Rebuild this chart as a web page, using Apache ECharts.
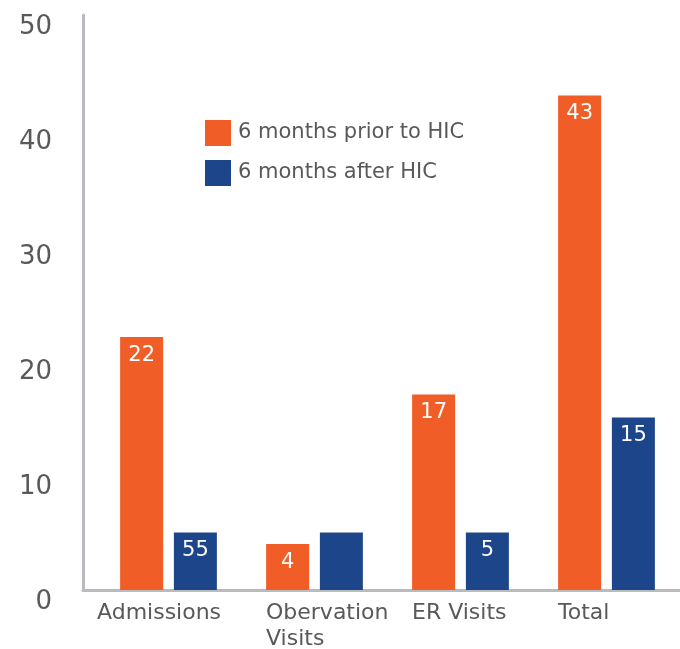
<!DOCTYPE html>
<html>
<head>
<meta charset="utf-8">
<script src="https://cdn.jsdelivr.net/npm/echarts@6/dist/echarts.min.js"></script>
<style>
    html, body { margin: 0; padding: 0; background: #fff; }
    #chart { width: 680px; height: 649px; }
</style>
</head>
<body>
<div id="chart"></div>
<script>
const categories = ['Admissions', 'Obervation\nVisits', 'ER Visits', 'Total'];
const priorValues = [22, 4, 17, 43];
const afterValues = [5, 5, 5, 15];
// labels as printed on the bars (the original shows "55" on the first blue bar)
const priorLabels = ['22', '4', '17', '43'];
const afterLabels = ['55', '', '5', '15'];
const seriesNames = ['6 months prior to HIC', '6 months after HIC'];

const orange = '#F15D26';
const blue = '#1C4689';
const textColor = '#595959';
const axisColor = '#b9bbbe';
const font = 'DejaVu Sans';

const chart = echarts.init(document.getElementById('chart'));

const option = {
    animation: false,
    textStyle: { fontFamily: font },
    grid: [
        { left: 95.5, right: 0.5, top: 15, bottom: 59, outerBoundsMode: 'none' },
        { left: 83, right: 0, top: 15, bottom: 59, outerBoundsMode: 'none' }
    ],
    legend: {
        orient: 'vertical',
        left: 205,
        top: 120,
        padding: 0,
        itemWidth: 26,
        itemHeight: 26,
        itemGap: 14,
        icon: 'rect',
        textStyle: { fontSize: 21, color: textColor, fontFamily: font, padding: [0, 0, 0, 2] },
        data: seriesNames
    },
    xAxis: [
        {
            type: 'category',
            gridIndex: 0,
            data: categories,
            axisLine: { show: false },
            axisTick: { show: false },
            axisLabel: {
                interval: 0,
                margin: 10,
                color: textColor,
                fontSize: 22,
                lineHeight: 26,
                formatter: (value, idx) => {
                    const key = idx === 0 ? 'w' : 'n';
                    return value.split('\n').map(s => `{${key}|${s}}`).join('\n');
                },
                rich: {
                    n: { width: 97, align: 'left', fontSize: 22, color: textColor, fontFamily: font, lineHeight: 26 },
                    w: { width: 143, align: 'left', fontSize: 22, color: textColor, fontFamily: font, lineHeight: 26 }
                }
            }
        },
        {
            type: 'value',
            gridIndex: 1,
            min: 0,
            max: 1,
            axisLine: { show: true, onZero: false, lineStyle: { color: axisColor, width: 3 } },
            axisTick: { show: false },
            axisLabel: { show: false },
            splitLine: { show: false }
        }
    ],
    yAxis: [
        {
            type: 'value',
            gridIndex: 0,
            min: 0,
            max: 50,
            interval: 10,
            axisLine: { show: false },
            axisTick: { show: false },
            axisLabel: { show: false },
            splitLine: { show: false }
        },
        {
            type: 'value',
            gridIndex: 1,
            min: 0,
            max: 50,
            interval: 10,
            axisLine: { show: true, lineStyle: { color: axisColor, width: 3 } },
            axisTick: { show: false },
            splitLine: { show: false },
            axisLabel: {
                margin: 31,
                fontSize: 26,
                color: textColor,
                formatter: v => `{t|${v}}`,
                rich: {
                    t: { fontSize: 26, color: textColor, fontFamily: font, padding: [24, 0, 0, 0] }
                }
            }
        }
    ],
    series: [
        {
            name: seriesNames[0],
            type: 'bar',
            xAxisIndex: 0,
            yAxisIndex: 0,
            barWidth: 43,
            barGap: '25%',
            itemStyle: { color: orange },
            label: {
                show: true,
                position: 'insideTop',
                distance: 8,
                color: '#fff',
                fontSize: 21,
                formatter: p => priorLabels[p.dataIndex]
            },
            data: priorValues
        },
        {
            name: seriesNames[1],
            type: 'bar',
            xAxisIndex: 0,
            yAxisIndex: 0,
            barWidth: 43,
            barGap: '25%',
            itemStyle: { color: blue },
            label: {
                show: true,
                position: 'insideTop',
                distance: 8,
                color: '#fff',
                fontSize: 21,
                formatter: p => afterLabels[p.dataIndex]
            },
            data: afterValues
        }
    ]
};

chart.setOption(option);
</script>
</body>
</html>
